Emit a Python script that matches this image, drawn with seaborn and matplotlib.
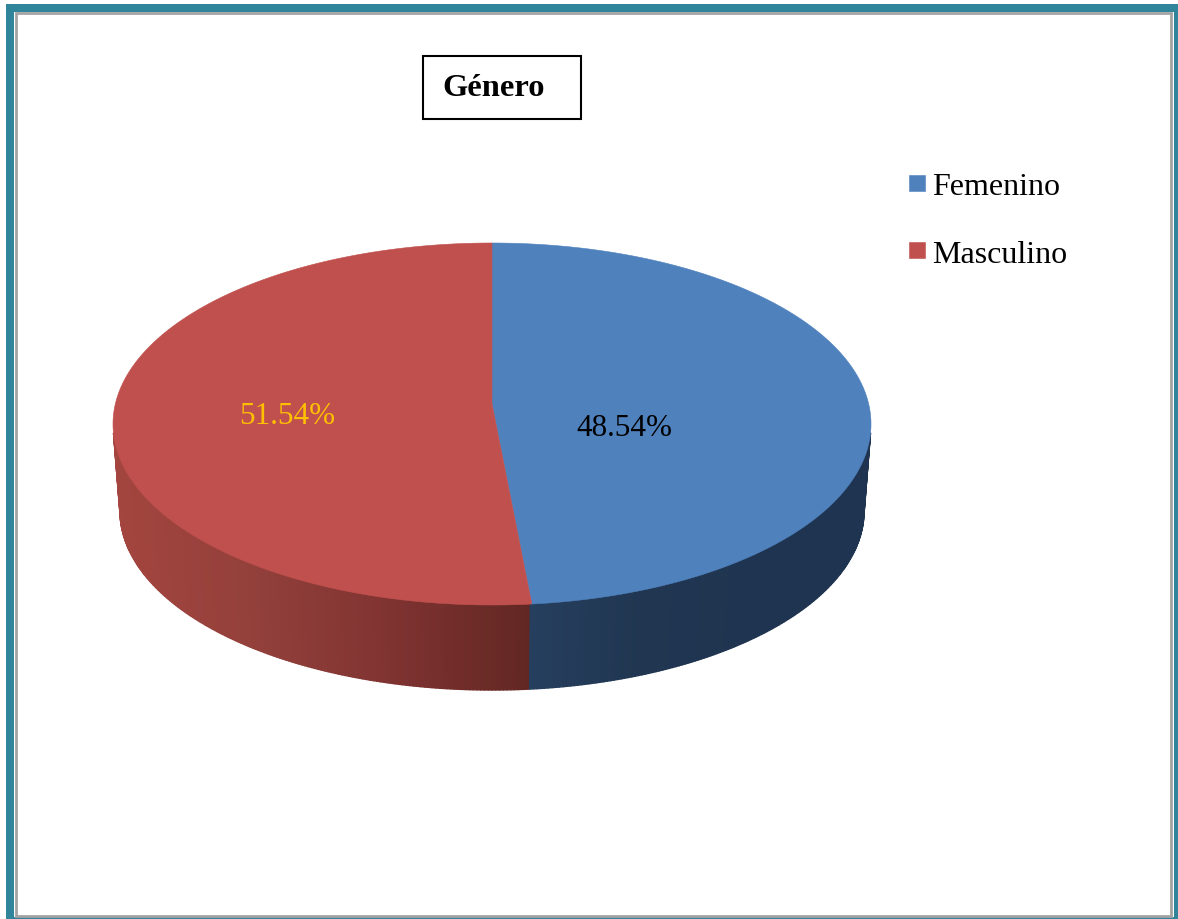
import numpy as np
import matplotlib
matplotlib.use("Agg")
import matplotlib.pyplot as plt
from matplotlib.collections import PolyCollection
from matplotlib.patches import PathPatch, Rectangle
from matplotlib.path import Path
from matplotlib.transforms import Affine2D
import seaborn as sns

# ---- data ----
categories = ["Femenino", "Masculino"]
percentages = [48.54, 51.54]
title = "Género"

# ---- style ----
sns.set_theme(style="white")
plt.rcParams["font.family"] = ["Liberation Serif", "DejaVu Serif"]
top_colors = ["#4F81BD", "#C0504D"]
label_colors = ["black", "#FFC000"]
wall_blue = sns.blend_palette(["#263F5E", "#203651", "#1F3450", "#1F3450"], as_cmap=True)
wall_red = sns.blend_palette(["#A4453F", "#93403B", "#7F3331", "#622723"], as_cmap=True)
TEAL, GRAY = "#31859B", "#A3A3A3"

W, H = 1178, 920
CX, CY, A, B = 492.0, 425.0, 379.0, 181.0   # top ellipse
BX_A, BY, BY_B = 372.0, 512.0, 179.0        # bottom ellipse of the wall
APEX = 20.0                                 # perspective shift of the pie centre

fig = plt.figure(figsize=(W / 100, H / 100), dpi=100, facecolor="white")
ax = fig.add_axes([0, 0, 1, 1])

# pie from the values, clockwise from 12 o'clock
wedges, _ = ax.pie(percentages, colors=top_colors, startangle=90, counterclock=False,
                   radius=1, center=(0, 0), wedgeprops={"linewidth": 0})
c = APEX / B
k = A * np.sqrt(1 - c * c)


def project(xy):
    """Perspective view of the unit pie onto the image ellipse."""
    d = c * xy[:, 1] + 1
    return np.column_stack([CX + k * xy[:, 0] / d, CY - B * (xy[:, 1] + c) / d])


slices = []
for w in wedges:
    # flatten at a large scale so the rim stays smooth
    to_big = w.get_patch_transform() + Affine2D().scale(5000)
    poly = to_big.transform_path(w.get_path()).to_polygons()[0] / 5000
    patch = PathPatch(Path(project(poly), closed=True), fc=w.get_facecolor(), ec=w.get_facecolor(),
                      lw=0.4, zorder=3)
    w.remove()
    ax.add_patch(patch)
    slices.append(patch)

# side wall, split where the first slice ends on the rim
theta = 2 * np.pi * percentages[0] / sum(percentages)
split_x = project(np.array([[np.sin(theta), np.cos(theta)]]))[0, 0]
t_split = np.arccos(-(split_x - CX) / A)
ts = np.linspace(0.05, np.pi - 0.05, 301)
polys, faces = [], []
for t0, t1 in zip(ts[:-1], ts[1:]):
    tm = 0.5 * (t0 + t1)
    quad = [(CX - A * np.cos(t0), CY + B * np.sin(t0)),
            (CX - A * np.cos(t1), CY + B * np.sin(t1)),
            (CX - BX_A * np.cos(t1), BY + BY_B * np.sin(t1)),
            (CX - BX_A * np.cos(t0), BY + BY_B * np.sin(t0))]
    polys.append(quad)
    if tm < t_split:
        faces.append(wall_red((1 - np.cos(tm)) / (1 - np.cos(t_split))))
    else:
        faces.append(wall_blue((np.cos(t_split) - np.cos(tm)) / (1 + np.cos(t_split))))
ax.add_collection(PolyCollection(polys, facecolors=faces, edgecolors=faces, linewidths=1.0, zorder=2))

# percentage labels
label_xy = [(576.5, 436), (239.5, 424)]
for p, col, (x, y) in zip(percentages, label_colors, label_xy):
    ax.text(x, y, f"{p:.2f}%", color=col, fontsize=22.4, ha="left", va="baseline", zorder=5)

# outer frame
ax.add_patch(Rectangle((6, 5), W - 6, H - 5, fc=TEAL, lw=0, zorder=0))
ax.add_patch(Rectangle((14, 12.5), 1160, 905.5, fc="white", lw=0, zorder=0.1))
ax.add_patch(Rectangle((15.5, 13.5), 1155, 903, fc="none", ec=GRAY, lw=2, zorder=0.2))

# title box
ax.add_patch(Rectangle((422.5, 56.5), 158.5, 63.5, fc="white", ec="black", lw=1.5, zorder=4))
ax.set_title(title, loc="left", x=442 / W, y=1 - 96 / H, pad=0, fontsize=23.4, fontweight="bold",
             color="black", va="baseline", zorder=6)

ax.set_xlim(0, W)
ax.set_ylim(H, 0)
ax.set_aspect("auto")
ax.axis("off")

ax.legend(slices, categories, loc="upper left", bbox_to_anchor=(909, 173),
          bbox_transform=ax.transData, frameon=False, fontsize=23, borderpad=0, borderaxespad=0,
          handlelength=0.5, handleheight=0.4, handletextpad=0.22, labelspacing=1.21,
          labelcolor="black")

fig.savefig("out.png", dpi=100, facecolor="white")
